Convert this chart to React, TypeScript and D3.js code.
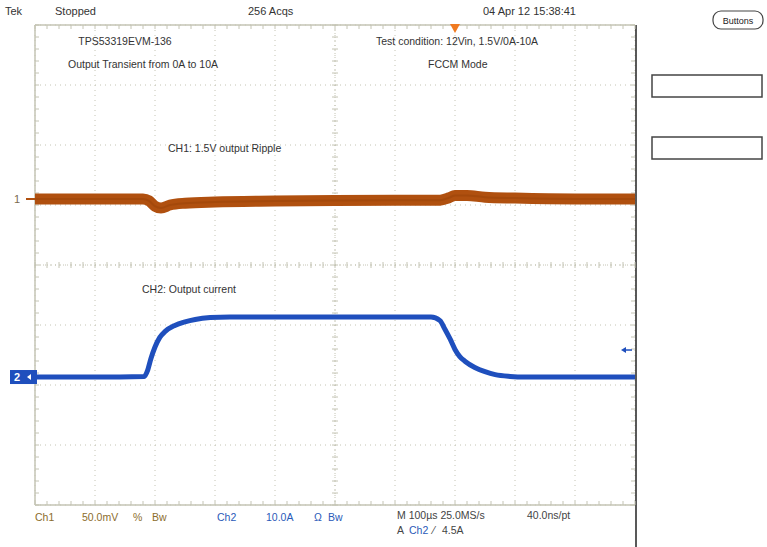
import React from "react";
import * as d3 from "d3";

// ---- data ----
// time in µs relative to trigger (100 µs/div), vertical in screen divisions
const timeDomain = [-700, 300];
const divDomain = [-4, 4];

// CH1: 1.5 V output ripple (screen divisions, 50 mV/div)
const ch1Time = [-700, -600, -520, -510, -500, -490, -475, -450, -400, -300, -200, -100, -25, -10, 0, 20, 50, 100, 200, 300];
const ch1Level = [1.1, 1.1, 1.1, 1.07, 0.98, 0.95, 1.0, 1.03, 1.05, 1.065, 1.075, 1.08, 1.08, 1.12, 1.16, 1.16, 1.13, 1.115, 1.1, 1.1];

// CH2: output current (A, 10 A/div), marker at -1.867 div
const ch2Offset = -1.867;
const ch2Time = [-700, -600, -518, -512, -507, -500, -492, -483, -467, -450, -433, -408, -375, -200, -40, -25, -17, -8, 0, 8, 17, 33, 50, 67, 92, 117, 300];
const ch2Amps = [0, 0, 0.1, 1.2, 3.0, 5.0, 6.6, 7.6, 8.6, 9.2, 9.6, 9.9, 10, 10, 10, 9.4, 8.0, 6.3, 4.6, 3.4, 2.6, 1.6, 0.9, 0.4, 0.1, 0, 0];

const triggerLevelAmps = 4.5;

const headerTexts = ["Tek", "Stopped", "256 Acqs", "04 Apr 12 15:38:41"];
const annotations = [
  "TPS53319EVM-136",
  "Output Transient from 0A to 10A",
  "Test condition: 12Vin, 1.5V/0A-10A",
  "FCCM Mode",
  "CH1: 1.5V output Ripple",
  "CH2: Output current",
];

const X0 = 35, X1 = 635, Y0 = 25, Y1 = 505;
const CH1C = "#b0500f";
const CH2C = "#1f4fbd";
const GRID = "#c4c4b4";
const FONT = "'Liberation Sans', Arial, sans-serif";

export default function App() {
  const x = d3.scaleLinear().domain(timeDomain).range([X0, X1]);
  const y = d3.scaleLinear().domain(divDomain).range([Y1, Y0]);

  const ch1Line = d3
    .line<number>()
    .x((_, i) => x(ch1Time[i]))
    .y((d) => y(d))
    .curve(d3.curveMonotoneX)(ch1Level) as string;

  const ch2Line = d3
    .line<number>()
    .x((_, i) => x(ch2Time[i]))
    .y((d) => y(ch2Offset + d / 10))
    .curve(d3.curveMonotoneX)(ch2Amps) as string;

  const majorX = d3.range(timeDomain[0], timeDomain[1] + 1, 100);
  const majorY = d3.range(divDomain[0], divDomain[1] + 1, 1);
  const minorX = d3.range(timeDomain[0], timeDomain[1] + 0.1, 20);
  const minorY = d3.range(divDomain[0], divDomain[1] + 0.01, 0.2);

  const cx = x(-200);
  const cy = y(0);
  const trigX = x(0);
  const ch1Y = y(ch1Level[0]);
  const ch2Y = y(ch2Offset);
  const trigLevelY = y(ch2Offset + triggerLevelAmps / 10);

  return (
    <svg
      width={767}
      height={547}
      style={{ position: "absolute", left: 0, top: 0, background: "#fff" }}
      fontFamily={FONT}
    >
      <rect x={0} y={0} width={767} height={547} fill="#fff" />

      {/* grid dotted lines */}
      {majorX.map((t) => (
        <line key={"gx" + t} x1={x(t)} x2={x(t)} y1={Y0} y2={Y1} stroke={GRID} strokeWidth={1} strokeDasharray="1,4" />
      ))}
      {majorY.map((v) => (
        <line key={"gy" + v} x1={X0} x2={X1} y1={y(v)} y2={y(v)} stroke={GRID} strokeWidth={1} strokeDasharray="1,4" />
      ))}

      {/* border */}
      <line x1={X0} x2={X1} y1={Y0} y2={Y0} stroke={GRID} strokeWidth={1.5} />
      <line x1={X0} x2={X1} y1={Y1} y2={Y1} stroke={GRID} strokeWidth={1.5} />
      <line x1={X0} x2={X0} y1={Y0} y2={Y1} stroke={GRID} strokeWidth={1.5} />
      <line x1={X1 + 1} x2={X1 + 1} y1={Y0} y2={547} stroke="#222" strokeWidth={1.5} />

      {/* minor ticks on borders and center axes */}
      {minorX.map((t) => (
        <g key={"tx" + t}>
          <line x1={x(t)} x2={x(t)} y1={Y0} y2={Y0 + 4} stroke={GRID} />
          <line x1={x(t)} x2={x(t)} y1={Y1 - 4} y2={Y1} stroke={GRID} />
          <line x1={x(t)} x2={x(t)} y1={cy - 3} y2={cy + 3} stroke={GRID} />
        </g>
      ))}
      {minorY.map((v) => (
        <g key={"ty" + v}>
          <line x1={X0} x2={X0 + 4} y1={y(v)} y2={y(v)} stroke={GRID} />
          <line x1={X1 - 4} x2={X1} y1={y(v)} y2={y(v)} stroke={GRID} />
          <line x1={cx - 3} x2={cx + 3} y1={y(v)} y2={y(v)} stroke={GRID} />
        </g>
      ))}
      <line x1={X0} x2={X1} y1={cy} y2={cy} stroke={GRID} strokeWidth={1} strokeDasharray="1,3" />
      <line x1={cx} x2={cx} y1={Y0} y2={Y1} stroke={GRID} strokeWidth={1} strokeDasharray="1,3" />

      {/* traces */}
      <path d={ch1Line} fill="none" stroke={CH1C} strokeWidth={11} strokeLinejoin="round" />
      <path d={ch1Line} fill="none" stroke="#8e3c06" strokeWidth={2} strokeOpacity={0.35} />
      <path d={ch2Line} fill="none" stroke={CH2C} strokeWidth={5} strokeLinejoin="round" />

      {/* channel markers */}
      <text x={14} y={ch1Y + 4} fontSize={11} fill="#7a6a50">1</text>
      <line x1={26} x2={X0} y1={ch1Y} y2={ch1Y} stroke={CH1C} strokeWidth={2} />
      <rect x={10} y={ch2Y - 7} width={X0 - 10 + 2} height={14} fill={CH2C} />
      <text x={14} y={ch2Y + 4} fontSize={11} fill="#fff" fontWeight="bold">2</text>
      <path d={`M${27},${ch2Y} l4,-3 l0,6 z`} fill="#fff" />

      {/* trigger markers */}
      <path d={`M${trigX - 5},${Y0 - 1} L${trigX + 5},${Y0 - 1} L${trigX},${Y0 + 8} Z`} fill="#f07a20" />
      <path d={`M${X1 - 14},${trigLevelY} l5,-3 l0,6 z`} fill={CH2C} />
      <line x1={X1 - 10} x2={X1 - 3} y1={trigLevelY} y2={trigLevelY} stroke={CH2C} strokeWidth={1.5} />

      {/* header */}
      <g fontSize={11} fill="#333">
        <text x={5} y={15}>{headerTexts[0]}</text>
        <text x={55} y={15}>{headerTexts[1]}</text>
        <text x={248} y={15}>{headerTexts[2]}</text>
        <text x={483} y={15}>{headerTexts[3]}</text>
      </g>

      {/* annotations */}
      <g fontSize={10.5} fill="#333">
        <text x={125} y={45} textAnchor="middle">{annotations[0]}</text>
        <text x={68} y={68}>{annotations[1]}</text>
        <text x={376} y={45}>{annotations[2]}</text>
        <text x={428} y={68}>{annotations[3]}</text>
        <text x={168} y={152}>{annotations[4]}</text>
        <text x={142} y={293}>{annotations[5]}</text>
      </g>

      {/* bottom readouts */}
      <g fontSize={10.5}>
        <text x={35} y={521} fill="#8c6d2c">Ch1</text>
        <text x={82} y={521} fill="#8c6d2c">50.0mV</text>
        <text x={133} y={521} fill="#8c6d2c">%</text>
        <text x={152} y={521} fill="#8c6d2c">Bw</text>
        <text x={217} y={521} fill="#2a5ab8">Ch2</text>
        <text x={266} y={521} fill="#2a5ab8">10.0A</text>
        <text x={314} y={521} fill="#2a5ab8">Ω</text>
        <text x={328} y={521} fill="#2a5ab8">Bw</text>
        <text x={397} y={519} fill="#444">M 100µs 25.0MS/s</text>
        <text x={527} y={519} fill="#444">40.0ns/pt</text>
        <text x={397} y={534} fill="#444">A</text>
        <text x={409} y={534} fill="#2a5ab8">Ch2</text>
        <text x={433} y={534} fill="#444">⁄</text>
        <text x={442} y={534} fill="#444">4.5A</text>
      </g>

      {/* right panel */}
      <rect x={713} y={11} width={50} height={18} rx={8} ry={8} fill="#fff" stroke="#444" strokeWidth={1.2} />
      <text x={738} y={24} fontSize={9} textAnchor="middle" fill="#222">Buttons</text>
      <rect x={652} y={75} width={110} height={22} fill="#fff" stroke="#444" strokeWidth={1.5} />
      <rect x={652} y={137} width={110} height={22} fill="#fff" stroke="#444" strokeWidth={1.5} />
    </svg>
  );
}
